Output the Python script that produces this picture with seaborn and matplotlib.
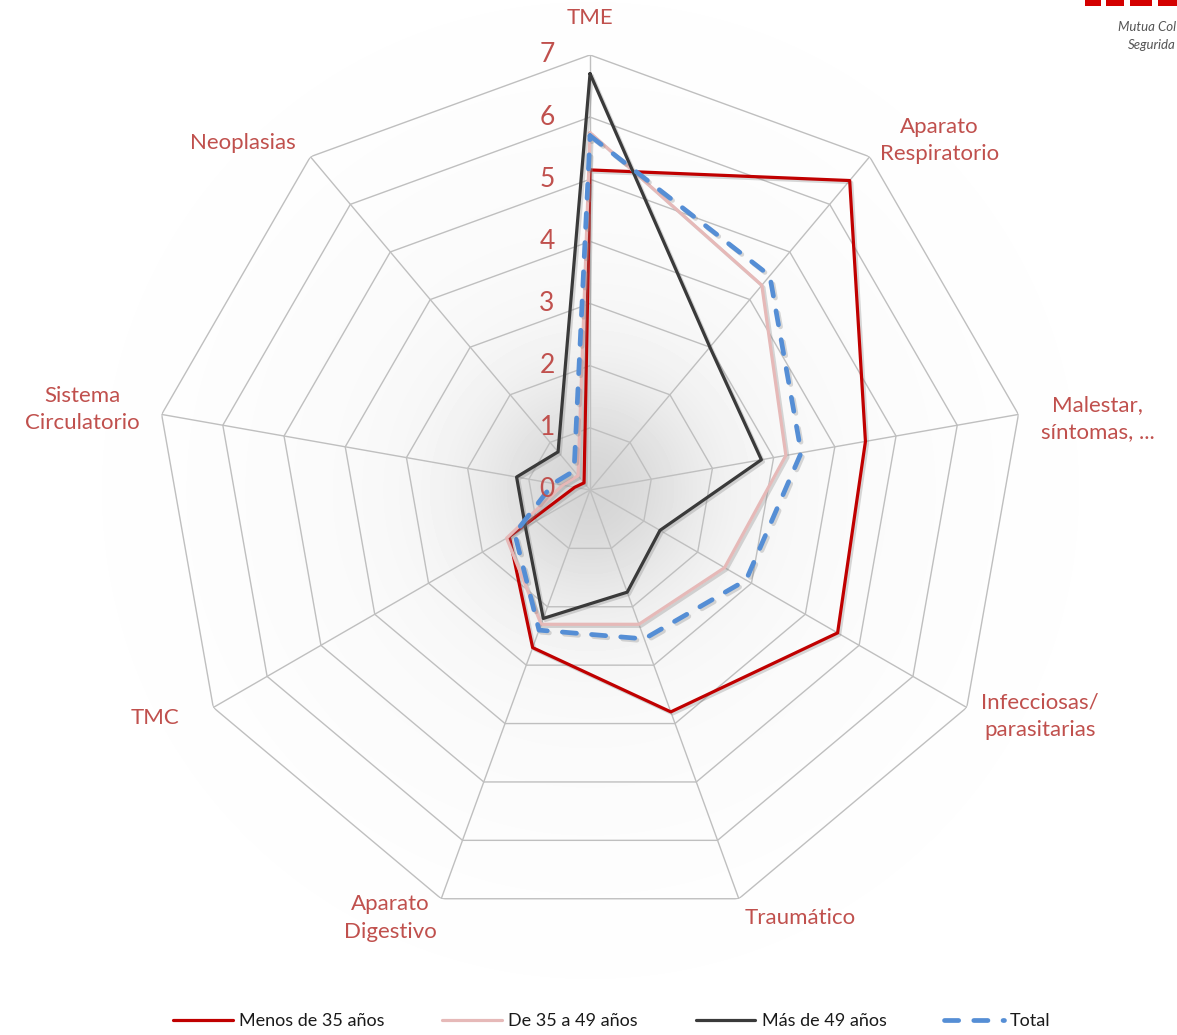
import numpy as np
import pandas as pd
import matplotlib
matplotlib.use('Agg')
import matplotlib.pyplot as plt
import matplotlib.transforms as mtransforms
import matplotlib.patheffects as pe
from matplotlib.lines import Line2D
from matplotlib.patches import Rectangle
import seaborn as sns

## datos
categorias = ['TME', 'Aparato\nRespiratorio', 'Malestar,\nsíntomas, ...',
              'Infecciosas/\nparasitarias', 'Traumático', 'Aparato\nDigestivo',
              'TMC', 'Sistema\nCirculatorio', 'Neoplasias']
menos_35 = [5.15, 6.5, 4.5, 4.6, 3.8, 2.7, 1.5, 0.25, 0.15]
de_35_49 = [5.75, 4.3, 3.2, 2.5, 2.3, 2.3, 1.55, 0.45, 0.3]
mas_49 = [6.7, 3.0, 2.8, 1.3, 1.75, 2.2, 1.2, 1.2, 0.8]
total = [5.7, 4.5, 3.45, 2.9, 2.55, 2.4, 1.4, 0.6, 0.4]
series = ['Menos de 35 años', 'De 35 a 49 años', 'Más de 49 años', 'Total']
escala = [0, 1, 2, 3, 4, 5, 6, 7]

colores = {'Menos de 35 años': '#C00000', 'De 35 a 49 años': '#E6B9B8',
           'Más de 49 años': '#3A3A3A', 'Total': '#558ED5'}
grosores = {'Menos de 35 años': 2.3, 'De 35 a 49 años': 2.3,
            'Más de 49 años': 2.3, 'Total': 3.4}
rojo_txt = '#C0504D'

if __name__ == '__main__':
    sns.set_style('white')
    plt.rcParams['font.family'] = ['Lato', 'DejaVu Sans']
    plt.rcParams['lines.dash_capstyle'] = 'round'

    n = len(categorias)
    angulos = np.arange(n) * 2 * np.pi / n

    ## tabla larga, cerrando cada poligono
    filas = []
    for nombre, valores in zip(series, [menos_35, de_35_49, mas_49, total]):
        for i in list(range(n)) + [0]:
            t = angulos[i] if len(filas) % (n + 1) != n else 2 * np.pi
            filas.append({'serie': nombre, 'theta': t, 'valor': valores[i]})
    df = pd.DataFrame(filas)

    fig = plt.figure(figsize=(11.77, 10.35), dpi=100)

    # fondo con un sombreado gris suave
    fondo = fig.add_axes([0, 0, 1, 1], zorder=-10)
    yy, xx = np.mgrid[0:1035, 0:1177]
    d = np.hypot(xx - 590, yy - 490)
    gris = 1 - 0.13 * np.exp(-(d / 110) ** 2) - 0.035 * np.exp(-(d / 330) ** 2)
    fondo.imshow(gris, cmap='gray', vmin=0, vmax=1, aspect='auto')
    fondo.axis('off')

    ax = fig.add_axes([0.1317, 0.1063, 0.7392, 0.8406], projection='polar')
    ax.patch.set_alpha(0)
    ax.set_theta_zero_location('N')
    ax.set_theta_direction(-1)
    ax.set_ylim(0, 7)
    ax.grid(False)
    ax.spines['polar'].set_visible(False)
    ax.set_xticks([])
    ax.set_yticks([])

    ## rejilla poligonal
    cerrado = np.append(angulos, 2 * np.pi)
    for r in escala[1:]:
        ax.plot(cerrado, [r] * (n + 1), color='#BFBFBF', lw=1.0, zorder=1)
    for t in angulos:
        ax.plot([t, t], [0, escala[-1]], color='#BFBFBF', lw=1.0, zorder=1)

    sns.lineplot(data=df, x='theta', y='valor', hue='serie', style='serie',
                 size='serie', sizes=grosores, palette=colores,
                 dashes={'Menos de 35 años': '', 'De 35 a 49 años': '',
                         'Más de 49 años': '', 'Total': (3, 3.2)},
                 sort=False, estimator=None, legend=False, ax=ax)
    for linea in ax.lines[-4:]:
        linea.set_zorder(3)
        linea.set_path_effects([pe.SimpleLineShadow(offset=(1.5, -1.5), shadow_color='#808080', alpha=0.3),
                                pe.Normal()])
    ax.set_xlabel('')
    ax.set_ylabel('')
    ax.set_ylim(0, 7)

    ## etiquetas del eje radial
    desplaza = mtransforms.offset_copy(ax.transData, fig=fig, x=-43, y=0, units='dots')
    for r in escala:
        ax.text(0, r, str(r), transform=desplaza, ha='center', va='center',
                fontsize=19, color=rojo_txt, zorder=4)

    ## etiquetas de categorias
    pos_etiquetas = [(0.0, 7.6), (45.0, 7.95), (82.0, 8.25), (116.7, 8.1), (153.8, 7.67),
                     (205.0, 7.6), (242.3, 7.9), (279.0, 8.27), (315.0, 7.9)]
    for texto, (ang, rad) in zip(categorias, pos_etiquetas):
        ax.text(np.deg2rad(ang), rad, texto, ha='center', va='center', fontsize=16,
                color=rojo_txt, linespacing=1.45, clip_on=False)

    ## leyenda
    manejadores = [Line2D([0], [0], color=colores[s], lw=grosores[s],
                          ls=(0, (3, 3.2)) if s == 'Total' else '-',
                          dash_capstyle='round') for s in series]
    fig.legend(manejadores, series, loc='lower center', ncol=4, frameon=False,
               bbox_to_anchor=(0.52, -0.01), fontsize=13, handlelength=3.3,
               columnspacing=3.2, handletextpad=0.35, labelcolor='#1a1a1a')

    ## logo recortado arriba a la derecha
    for x0, ancho in [(1085, 16), (1106, 18), (1130, 22), (1158, 19)]:
        fig.add_artist(Rectangle((x0 / 1177, 1 - 6 / 1035), ancho / 1177, 6 / 1035,
                                 transform=fig.transFigure, color='#D40000', lw=0))
    fig.text(1176 / 1177, 1 - 27 / 1035, 'Mutua Col', color='#555555', fontsize=9.5,
             style='italic', ha='right', va='center')
    fig.text(1176 / 1177, 1 - 45 / 1035, 'Segurida', color='#555555', fontsize=9.5,
             style='italic', ha='right', va='center')

    fig.savefig('out.png', dpi=100)
